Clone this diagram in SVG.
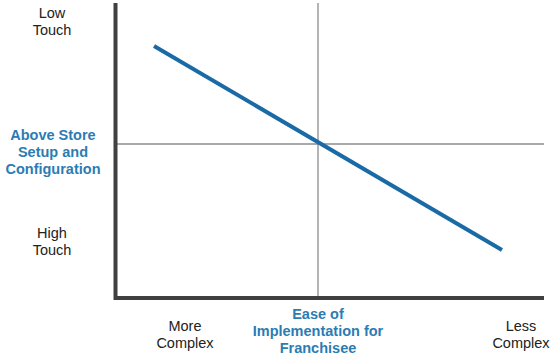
<svg xmlns="http://www.w3.org/2000/svg" width="556" height="359" viewBox="0 0 556 359">
<style>
.lbl{font-family:"Liberation Sans",Arial,sans-serif;font-size:14.5px;fill:#222;text-anchor:middle}
.ttl{font-family:"Liberation Sans",Arial,sans-serif;font-size:14.5px;font-weight:bold;fill:#2b7cb3;text-anchor:middle}
.axis{stroke:#404040;stroke-width:4;fill:none}
.grid{stroke:#8c8c8c;stroke-width:1.3;fill:none}
.trend{stroke:#1a6aa6;stroke-width:4;stroke-linecap:butt;fill:none}
</style>
<rect width="556" height="359" fill="#fff"/>
<g id="connectors">
<line class="grid" x1="318" y1="3" x2="318" y2="298"/>
<line class="grid" x1="116" y1="144" x2="544" y2="144"/>
<polyline class="axis" points="115.5,3 115.5,298 544,298"/>
<line class="trend" x1="154" y1="46" x2="502" y2="250"/>
</g>
<g id="low-touch"><text class="lbl" x="52" y="18">Low</text><text class="lbl" x="52" y="35">Touch</text></g>
<g id="y-title"><text class="ttl" x="53" y="140">Above Store</text><text class="ttl" x="53" y="157">Setup and</text><text class="ttl" x="53" y="174">Configuration</text></g>
<g id="high-touch"><text class="lbl" x="52" y="238">High</text><text class="lbl" x="52" y="255">Touch</text></g>
<g id="more-complex"><text class="lbl" x="185" y="331">More</text><text class="lbl" x="185" y="348">Complex</text></g>
<g id="x-title"><text class="ttl" x="318" y="319">Ease of</text><text class="ttl" x="318" y="336">Implementation for</text><text class="ttl" x="318" y="353">Franchisee</text></g>
<g id="less-complex"><text class="lbl" x="521" y="331">Less</text><text class="lbl" x="521" y="348">Complex</text></g>
</svg>
